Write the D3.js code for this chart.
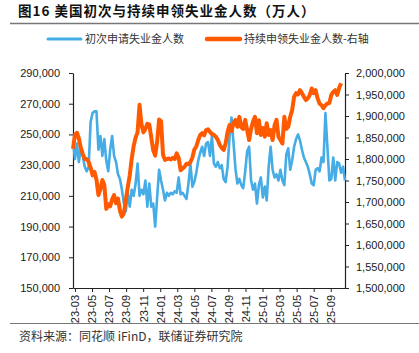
<!DOCTYPE html>
<html>
<head>
<meta charset="utf-8">
<script src="https://cdn.jsdelivr.net/npm/d3@7"></script>
<style>
  body { margin: 0; background: #fff; }
  svg { display: block; font-family: "Liberation Sans", Arial, "Noto Sans CJK SC", sans-serif; }
  .cjk { font-family: "Noto Sans CJK SC", sans-serif; }
  .axis path, .axis line { stroke: #222; }
  .axis text { fill: #1a1a1a; font-size: 11px; }
</style>
</head>
<body>
<div class="chart"></div>
<script>
// weekly data, first week ending 2023-03-18
const firstWeek = '2023-03-18'

// 初次申请失业金人数 (left axis)
const initialClaims = [
  246000, 234000, 244000, 232000, 241000, 236000, 229000, 226000, 229000, 258000,
  264000, 265000, 265000, 240000, 249000, 236000, 247000, 233000, 226000, 240000,
  249000, 236000, 232000, 224000, 221000, 214000, 205000, 200000, 212000, 203000,
  214000, 210000, 218000, 231000, 210000, 214000, 211000, 220000, 203000, 218000,
  203000, 205000, 190000, 209000, 227000, 220000, 214000, 207000, 212000, 210000,
  212000, 211000, 213000, 212000, 222000, 211000, 212000, 210000, 208000, 218000,
  231000, 216000, 219000, 225000, 233000, 238000, 242000, 236000, 244000, 245000,
  236000, 249000, 231000, 229000, 232000, 228000, 230000, 221000, 219000, 229000,
  248000, 261000, 245000, 228000, 218000, 221000, 217000, 215000, 226000, 239000,
  242000, 220000, 214000, 218000, 205000, 217000, 222000, 209000, 216000, 207000,
  229000, 242000, 227000, 222000, 224000, 220000, 227000, 220000, 217000, 237000,
  241000, 227000, 233000, 242000, 247000, 250000, 246000, 240000, 235000, 232000,
  229000, 224000, 218000, 217000, 227000, 228000, 226000, 235000, 232000, 264000,
  242000, 220000, 221000, 235000, 220000, 232000, 231000, 225000, 229000, 220000
]

// 持续申领失业金人数 (right axis)
const continuingClaims = [
  1824000, 1856000, 1861000, 1848000, 1826000, 1812000, 1800000, 1800000, 1793000, 1780000,
  1762000, 1770000, 1752000, 1716000, 1730000, 1751000, 1740000, 1684000, 1695000, 1690000,
  1706000, 1716000, 1697000, 1708000, 1680000, 1666000, 1674000, 1705000, 1735000, 1762000,
  1800000, 1830000, 1850000, 1862000, 1926000, 1880000, 1862000, 1870000, 1882000, 1880000,
  1850000, 1820000, 1808000, 1840000, 1892000, 1888000, 1810000, 1798000, 1800000, 1801000,
  1799000, 1803000, 1800000, 1813000, 1803000, 1774000, 1778000, 1782000, 1789000, 1788000,
  1793000, 1803000, 1822000, 1829000, 1844000, 1856000, 1860000, 1855000, 1867000, 1869000,
  1863000, 1858000, 1856000, 1852000, 1844000, 1833000, 1826000, 1821000, 1836000, 1863000,
  1879000, 1865000, 1883000, 1891000, 1875000, 1898000, 1874000, 1870000, 1891000, 1867000,
  1844000, 1870000, 1887000, 1898000, 1860000, 1890000, 1856000, 1872000, 1852000, 1883000,
  1856000, 1867000, 1844000, 1878000, 1891000, 1852000, 1844000, 1836000, 1898000, 1870000,
  1875000, 1898000, 1914000, 1945000, 1953000, 1950000, 1960000, 1953000, 1945000, 1937000,
  1941000, 1949000, 1964000, 1953000, 1960000, 1941000, 1929000, 1925000, 1918000, 1925000,
  1929000, 1930000, 1949000, 1956000, 1960000, 1949000, 1965000, 1976000
]

const tickDates = [
  '2023-03-25', '2023-05-25', '2023-07-25', '2023-09-24', '2023-11-24', '2024-01-24',
  '2024-03-25', '2024-05-25', '2024-07-25', '2024-09-24', '2024-11-24', '2025-01-24',
  '2025-03-26', '2025-05-26', '2025-07-26', '2025-09-25'
]
const tickLabels = [
  '23-03', '23-05', '23-07', '23-09', '23-11', '24-01', '24-03', '24-05',
  '24-07', '24-09', '24-11', '25-01', '25-03', '25-05', '25-07', '25-09'
]
const leftTicks = [150000, 170000, 190000, 210000, 230000, 250000, 270000, 290000]
const rightTicks = [1500000, 1550000, 1600000, 1650000, 1700000, 1750000, 1800000, 1850000, 1900000, 1950000, 2000000]
const seriesNames = ['初次申请失业金人数', '持续申领失业金人数-右轴']
const colors = ['#45ace6', '#ff5a00']

const width = 419, height = 353
const margin = { left: 73, right: 345, top: 73, bottom: 288 }

const parse = d3.utcParse('%Y-%m-%d')
const start = parse(firstWeek)
const weeks = initialClaims.map((d, i) => d3.utcDay.offset(start, i * 7))

const svg = d3.select('.chart')
  .append('svg')
    .attr('width', width)
    .attr('height', height)

// title + rules
svg.append('text')
  .attr('class', 'cjk')
  .attr('x', 18)
  .attr('y', 16)
  .style('font-size', '13.5px')
  .style('font-weight', 'bold')
  .style('letter-spacing', '1px')
  .style('fill', '#111')
  .text('图16 美国初次与持续申领失业金人数（万人）')

svg.append('line')
  .attr('x1', 10).attr('x2', 419)
  .attr('y1', 23.5).attr('y2', 23.5)
  .style('stroke', '#777').style('stroke-width', 1.5)

svg.append('line')
  .attr('x1', 10).attr('x2', 419)
  .attr('y1', 323.5).attr('y2', 323.5)
  .style('stroke', '#777').style('stroke-width', 1.2)

svg.append('text')
  .attr('class', 'cjk')
  .attr('x', 19)
  .attr('y', 341)
  .style('font-size', '12px')
  .style('fill', '#333')
  .text('资料来源：同花顺 iFinD，联储证券研究院')

// scales
const xScale = d3.scaleUtc()
  .domain([weeks[0], weeks[weeks.length - 1]])
  .range([margin.left, margin.right])

const yLeft = d3.scaleLinear()
  .domain([150000, 290000])
  .range([margin.bottom, margin.top])

const yRight = d3.scaleLinear()
  .domain([1500000, 2000000])
  .range([margin.bottom, margin.top])

// axes
svg.append('g')
  .attr('class', 'axis')
  .attr('transform', `translate(${margin.left}, 0)`)
  .call(d3.axisLeft(yLeft)
    .tickValues(leftTicks)
    .tickFormat(d3.format(','))
    .tickSize(4)
    .tickSizeOuter(0)
    .tickPadding(9))

svg.append('g')
  .attr('class', 'axis')
  .attr('transform', `translate(${margin.right}, 0)`)
  .call(d3.axisRight(yRight)
    .tickValues(rightTicks)
    .tickFormat(d3.format(','))
    .tickSize(4)
    .tickSizeOuter(0)
    .tickPadding(7))

const xAxis = svg.append('g')
  .attr('class', 'axis')
  .attr('transform', `translate(0, ${margin.bottom})`)
  .call(d3.axisBottom(xScale)
    .tickValues(tickDates.map(parse))
    .tickFormat((d, i) => tickLabels[i])
    .tickSize(4)
    .tickSizeOuter(0))

xAxis.selectAll('text')
  .attr('transform', 'rotate(-90)')
  .attr('x', -7)
  .attr('y', 0)
  .attr('dy', '0.35em')
  .style('text-anchor', 'end')

svg.selectAll('.axis .domain').style('stroke-width', 1.2)

// lines
const blueLine = d3.line()
  .x((d, i) => xScale(weeks[i]))
  .y(d => yLeft(d))

const orangeLine = d3.line()
  .x((d, i) => xScale(weeks[i]))
  .y(d => yRight(d))

svg.append('path')
  .datum(initialClaims)
  .attr('d', blueLine)
  .style('fill', 'none')
  .style('stroke', colors[0])
  .style('stroke-width', 2.6)
  .style('stroke-linejoin', 'round')

svg.append('path')
  .datum(continuingClaims)
  .attr('d', orangeLine)
  .style('fill', 'none')
  .style('stroke', colors[1])
  .style('stroke-width', 4)
  .style('stroke-linejoin', 'round')

// legend
const legend = svg.selectAll('g.legend')
  .data(seriesNames)
  .enter()
  .append('g')
    .attr('class', 'legend')
    .attr('transform', (d, i) => `translate(${i ? 207 : 48}, 39)`)

legend.append('line')
  .attr('x1', 0).attr('x2', 33)
  .style('stroke', (d, i) => colors[i])
  .style('stroke-width', (d, i) => i ? 4.5 : 3)
  .style('stroke-linecap', 'round')

legend.append('text')
  .attr('class', 'cjk')
  .attr('x', 37)
  .attr('dy', '0.36em')
  .style('font-size', '11px')
  .style('fill', '#333')
  .text(d => d)
</script>
</body>
</html>
